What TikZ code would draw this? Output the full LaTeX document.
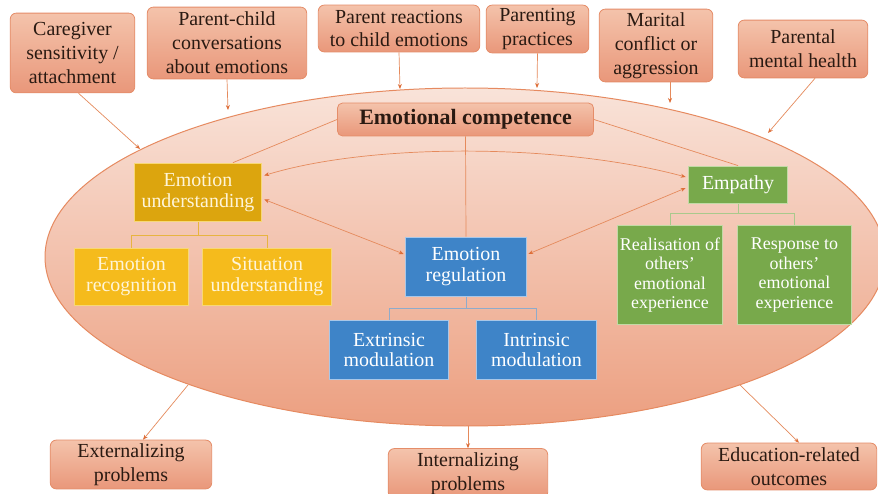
\documentclass[tikz,border=0pt]{standalone}
\usepackage{fontspec}
\setmainfont{Liberation Serif}
\usetikzlibrary{arrows.meta,calc}

\definecolor{ellTop}{HTML}{F9E3D9}
\definecolor{ellMid}{HTML}{F1B9A0}
\definecolor{ellBot}{HTML}{EC9F80}
\definecolor{ellLine}{HTML}{E68A60}
\definecolor{salTop}{HTML}{F4C3AB}
\definecolor{salBot}{HTML}{E9977A}
\definecolor{salLine}{HTML}{E58D69}
\definecolor{wire}{HTML}{E58A5C}
\definecolor{tip}{HTML}{DE6E38}
\definecolor{goldDark}{HTML}{DCA50E}
\definecolor{goldLight}{HTML}{F5BB1C}
\definecolor{goldLine}{HTML}{F7D877}
\definecolor{goldWire}{HTML}{E8B440}
\definecolor{goldText}{HTML}{FFF5D8}
\definecolor{blueFill}{HTML}{3E84C8}
\definecolor{blueLine}{HTML}{A8C7E8}
\definecolor{blueWire}{HTML}{8EABCB}
\definecolor{greenFill}{HTML}{78A94B}
\definecolor{greenLine}{HTML}{C2DAA6}
\definecolor{greenWire}{HTML}{A9C98C}
\definecolor{darkText}{HTML}{2A1A12}

\tikzset{
  factor/.style={draw=salLine, line width=0.8pt, rounded corners=6pt,
    top color=salTop, bottom color=salBot, text=darkText, align=center,
    inner sep=0pt, font=\fontsize{20}{24}\selectfont},
  hub/.style={factor, rounded corners=5pt, font=\fontsize{22}{24}\selectfont\bfseries},
  goldbox/.style={draw=goldLine, line width=1pt, text=goldText, align=center,
    inner sep=0pt, font=\fontsize{20}{21}\selectfont},
  bluebox/.style={fill=blueFill, draw=blueLine, line width=1pt, text=white,
    align=center, inner sep=0pt, font=\fontsize{20}{21}\selectfont},
  greenbox/.style={fill=greenFill, draw=greenLine, line width=1pt, text=white,
    align=center, inner sep=0pt, font=\fontsize{18}{19.5}\selectfont},
  link/.style={draw=wire, line width=0.7pt, -{Stealth[length=5pt,width=4pt,color=tip]}},
  duplex/.style={draw=wire, line width=0.7pt,
    {Stealth[length=5pt,width=4pt,color=tip]}-{Stealth[length=5pt,width=4pt,color=tip]}},
  plain/.style={draw=wire, line width=0.7pt},
}

\begin{document}
\begin{tikzpicture}[x=1bp,y=-1bp]
\useasboundingbox (0,0) rectangle (878,494);
\fill[white] (0,0) rectangle (878,494);

% the large competence ellipse
\path[draw=ellLine, line width=1pt, top color=ellTop, middle color=ellMid,
  bottom color=ellBot] (465,257) ellipse [x radius=420, y radius=169];

% points on the ellipse outline where the outer arrows meet it
\coordinate (e1) at (140,149);
\coordinate (e2) at (228,110);
\coordinate (e3) at (400,89);
\coordinate (e4) at (537,88);
\coordinate (e5) at (670,103);
\coordinate (e6) at (768,133);
\coordinate (b1) at (188,385);
\coordinate (b2) at (468,426);
\coordinate (b3) at (740,385);

% influencing factors
\node[factor, minimum width=125, minimum height=80] (cg) at (72.5,53)
  {Caregiver\\sensitivity /\\attachment};
\node[factor, minimum width=160, minimum height=72] (pc) at (227,43)
  {Parent-child\\conversations\\about emotions};
\node[factor, minimum width=162, minimum height=47] (pr) at (399,28.5)
  {Parent reactions\\to child emotions};
\node[factor, minimum width=103, minimum height=48] (pp) at (537.5,29)
  {Parenting\\practices};
\node[factor, minimum width=114, minimum height=73] (mc) at (656,45.5)
  {Marital\\conflict or\\aggression};
\node[factor, minimum width=130, minimum height=58] (pm) at (803,49)
  {Parental\\mental health};

% outcomes
\node[factor, minimum width=162, minimum height=49] (ext) at (131,464.5)
  {Externalizing\\problems};
\node[factor, minimum width=160, minimum height=50] (inn) at (468,473.5)
  {Internalizing\\problems};
\node[factor, minimum width=176, minimum height=47] (edu) at (789,466.5)
  {Education-related\\outcomes};

% core construct
\node[hub, minimum width=257, minimum height=33] (ec) at (465.5,119.5)
  {Emotional competence};

% emotion understanding branch
\node[goldbox, fill=goldDark, minimum width=128, minimum height=59] (eu) at (198,192.5)
  {Emotion\\understanding};
\node[goldbox, fill=goldLight, minimum width=115, minimum height=58] (rec) at (131.5,277)
  {Emotion\\recognition};
\node[goldbox, fill=goldLight, minimum width=130, minimum height=58] (sit) at (267,277)
  {Situation\\understanding};

% emotion regulation branch
\node[bluebox, minimum width=122, minimum height=60] (er) at (466,267)
  {Emotion\\regulation};
\node[bluebox, minimum width=119, minimum height=60] (xm) at (389,350)
  {Extrinsic\\modulation};
\node[bluebox, minimum width=121, minimum height=60] (im) at (536.5,350)
  {Intrinsic\\modulation};

% empathy branch
\node[greenbox, font=\fontsize{20}{21}\selectfont, minimum width=100, minimum height=38] (emp) at (738,185)
  {Empathy};
\node[greenbox, minimum width=106, minimum height=100] (real) at (670,275)
  {Realisation of\\others’\\emotional\\experience};
\node[greenbox, minimum width=115, minimum height=100] (resp) at (794.5,275)
  {Response to\\others’\\emotional\\experience};

% branch trees
\draw[goldWire, line width=1pt] (eu.south) -- ++(0,13) -| (rec.north);
\draw[goldWire, line width=1pt] (eu.south) -- ++(0,13) -| (sit.north);
\draw[blueWire, line width=1pt] (er.south) -- ++(0,11) -| (xm.north);
\draw[blueWire, line width=1pt] (er.south) -- ++(0,11) -| (im.north);
\draw[greenWire, line width=1pt] (emp.south) -- ++(0,9) -| (real.north);
\draw[greenWire, line width=1pt] (emp.south) -- ++(0,9) -| (resp.north);

% factors feeding the ellipse
\draw[link] ($(cg.south)+(6,0)$) -- (e1);
\draw[link] (pc.south) -- (e2);
\draw[link] (pr.south) -- (e3);
\draw[link] (pp.south) -- (e4);
\draw[link] ($(mc.south)+(14,0)$) -- (e5);
\draw[link] ($(pm.south)+(12,0)$) -- (e6);

% ellipse to outcomes
\draw[link] (b1) -- ($(ext.north)+(12,0)$);
\draw[link] (b2) -- (inn.north);
\draw[link] (b3) -- ($(edu.north)+(10,0)$);

% competence to its components
\draw[plain] (ec.west) -- ($(eu.north)+(35,0)$);
\draw[plain] (ec.south) -- (er.north);
\draw[plain] (ec.east) -- (emp.north);

% links between components
\draw[duplex] ($(eu.east)+(2,-17)$) .. controls (370,143) and (560,143) .. ($(emp.west)+(-2,-8)$);
\draw[duplex] ($(eu.east)+(2,7)$) -- ($(er.west)+(-1,-13)$);
\draw[duplex] ($(er.east)+(1,-13)$) -- ($(emp.west)+(-2,3)$);
\end{tikzpicture}
\end{document}
